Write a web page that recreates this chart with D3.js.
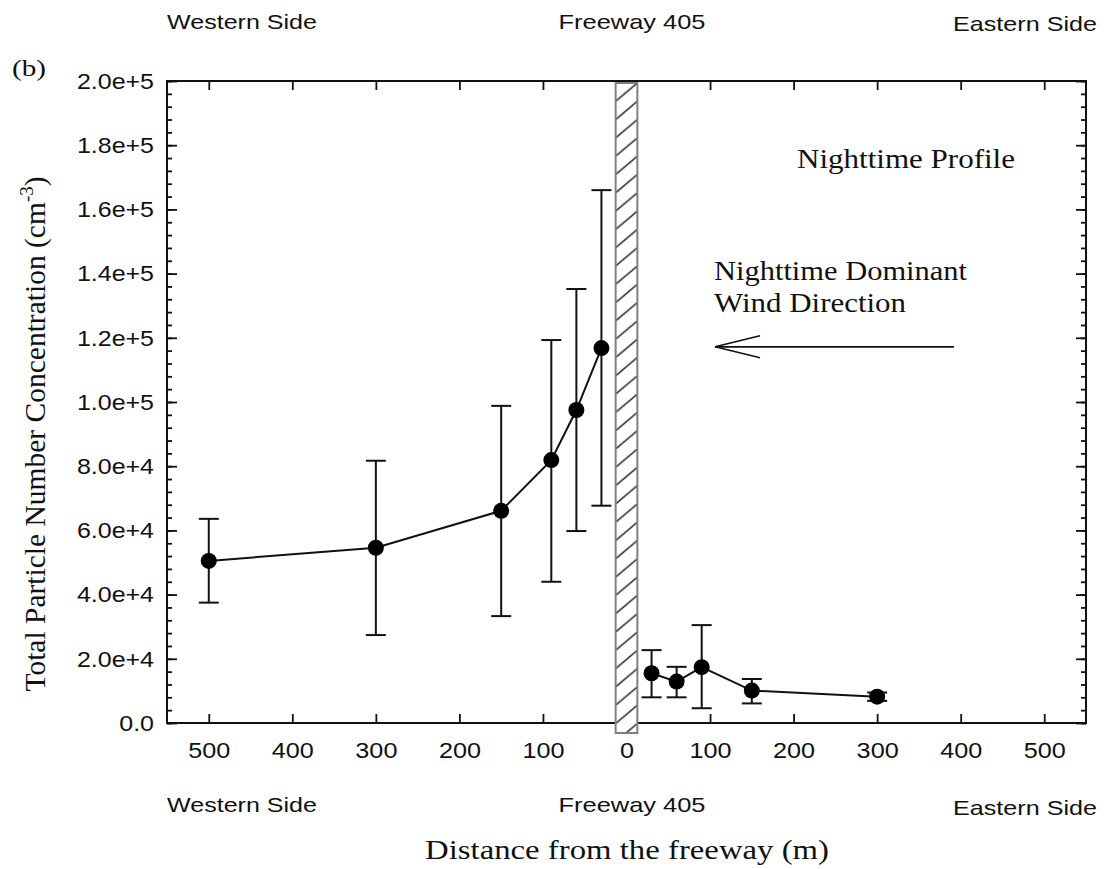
<!DOCTYPE html>
<html>
<head>
<meta charset="utf-8">
<script src="https://cdn.jsdelivr.net/npm/d3@7"></script>
<style>
  html, body { margin: 0; padding: 0; background: #fff; }
  svg { display: block; }
</style>
</head>
<body>
<svg id="chart" width="1104" height="869"></svg>
<script>
// ---------------- data ----------------
const westDist = [500, 300, 150, 90, 60, 30];
const westMean = [50500, 54600, 66100, 81900, 97500, 116800];
const westHigh = [63600, 81700, 98800, 119300, 135200, 166000];
const westLow  = [37500, 27400, 33300, 44000, 59800, 67700];

const eastDist = [30, 60, 90, 150, 300];
const eastMean = [15500, 12900, 17400, 10100, 8200];
const eastHigh = [22700, 17500, 30500, 13700, 9500];
const eastLow  = [8000, 8000, 4600, 6100, 6900];

const xTicks = [-500, -400, -300, -200, -100, 0, 100, 200, 300, 400, 500];
const yTicks = [0, 20000, 40000, 60000, 80000, 100000, 120000, 140000, 160000, 180000, 200000];
const yMinorTicks = d3.range(0, 200001, 4000);

const freewayHalfWidth = 13;           // hatched freeway band, metres
const windArrow = { from: 392, to: 106, y: 117200 };

// ---------------- layout ----------------
const svg = d3.select('#chart');
const L = 167, R = 1086, T = 81, B = 723;
const SANS = "'Liberation Sans', Arial, sans-serif";
const SERIF = "'Liberation Serif', 'Times New Roman', serif";

const x = d3.scaleLinear().domain([-550, 550]).range([L, R]);
const y = d3.scaleLinear().domain([0, 200000]).range([B, T]);

function yFmt(d) {
  if (d === 0) return '0.0';
  const e = Math.floor(Math.log10(d) + 1e-9);
  return (d / Math.pow(10, e)).toFixed(1) + 'e+' + e;
}
function stretch(sel, f) {
  sel.each(function () {
    const w = this.getComputedTextLength();
    d3.select(this).attr('textLength', w * f).attr('lengthAdjust', 'spacingAndGlyphs');
  });
}

// ---------------- axes (ticks inward) ----------------
const gB = svg.append('g').attr('transform', `translate(0,${B})`)
  .call(d3.axisBottom(x).tickValues(xTicks).tickSizeInner(-9).tickSizeOuter(0).tickPadding(19)
    .tickFormat(d => Math.abs(d)));
const gT = svg.append('g').attr('transform', `translate(0,${T})`)
  .call(d3.axisTop(x).tickValues(xTicks).tickSizeInner(-9).tickSizeOuter(0).tickFormat(''));
const gLm = svg.append('g').attr('transform', `translate(${L},0)`)
  .call(d3.axisLeft(y).tickValues(yMinorTicks).tickSizeInner(-5).tickSizeOuter(0).tickFormat(''));
const gL = svg.append('g').attr('transform', `translate(${L},0)`)
  .call(d3.axisLeft(y).tickValues(yTicks).tickSizeInner(-10).tickSizeOuter(0).tickPadding(13).tickFormat(yFmt));
const gRm = svg.append('g').attr('transform', `translate(${R},0)`)
  .call(d3.axisRight(y).tickValues(yMinorTicks).tickSizeInner(-5).tickSizeOuter(0).tickFormat(''));
const gR = svg.append('g').attr('transform', `translate(${R},0)`)
  .call(d3.axisRight(y).tickValues(yTicks).tickSizeInner(-10).tickSizeOuter(0).tickFormat(''));

[gB, gT, gLm, gL, gRm, gR].forEach(g => {
  g.select('.domain').remove();
  g.selectAll('.tick line').attr('stroke', '#111').attr('stroke-width', 1.8);
  g.selectAll('.tick text').attr('fill', '#111').attr('font-family', SANS).attr('font-size', 22.5);
});
stretch(gB.selectAll('.tick text'), 1.12);
stretch(gL.selectAll('.tick text'), 1.11);

// frame
svg.append('rect').attr('x', L).attr('y', T).attr('width', R - L).attr('height', B - T)
  .attr('fill', 'none').attr('stroke', '#111').attr('stroke-width', 2);

// ---------------- freeway hatched band ----------------
const bx0 = x(-freewayHalfWidth), bx1 = x(freewayHalfWidth);
const defs = svg.append('defs');
const pat = defs.append('pattern').attr('id', 'hatch').attr('patternUnits', 'userSpaceOnUse')
  .attr('x', bx0).attr('y', T + 2).attr('width', bx1 - bx0).attr('height', 18.3);
pat.append('rect').attr('width', bx1 - bx0).attr('height', 18.3).attr('fill', '#fff');
pat.append('line').attr('x1', 0).attr('y1', 18.3).attr('x2', bx1 - bx0).attr('y2', 0)
  .attr('stroke', '#222').attr('stroke-width', 1.5);
svg.append('rect').attr('x', bx0).attr('y', T + 2).attr('width', bx1 - bx0).attr('height', B + 10 - (T + 2))
  .attr('fill', 'url(#hatch)').attr('stroke', '#808080').attr('stroke-width', 2);

// ---------------- data marks ----------------
function series(dist, mean, hi, lo, sign) {
  const rows = dist.map((d, i) => ({ x: sign * d, m: mean[i], hi: hi[i], lo: lo[i] }));
  const g = svg.append('g');
  const eb = g.selectAll('g.eb').data(rows).join('g');
  eb.append('line').attr('x1', d => x(d.x)).attr('x2', d => x(d.x))
    .attr('y1', d => y(d.hi)).attr('y2', d => y(d.lo)).attr('stroke', '#111').attr('stroke-width', 2);
  eb.append('line').attr('x1', d => x(d.x) - 10).attr('x2', d => x(d.x) + 10)
    .attr('y1', d => y(d.hi)).attr('y2', d => y(d.hi)).attr('stroke', '#111').attr('stroke-width', 2);
  eb.append('line').attr('x1', d => x(d.x) - 10).attr('x2', d => x(d.x) + 10)
    .attr('y1', d => y(d.lo)).attr('y2', d => y(d.lo)).attr('stroke', '#111').attr('stroke-width', 2);
  g.append('path').datum(rows)
    .attr('d', d3.line().x(d => x(d.x)).y(d => y(d.m)))
    .attr('fill', 'none').attr('stroke', '#111').attr('stroke-width', 2);
  g.selectAll('circle').data(rows).join('circle')
    .attr('cx', d => x(d.x)).attr('cy', d => y(d.m)).attr('r', 8).attr('fill', '#000');
}
series(westDist, westMean, westHigh, westLow, -1);
series(eastDist, eastMean, eastHigh, eastLow, 1);

// ---------------- wind arrow ----------------
const ay = y(windArrow.y), ax0 = x(windArrow.from), ax1 = x(windArrow.to);
svg.append('line').attr('x1', ax0).attr('x2', ax1).attr('y1', ay).attr('y2', ay)
  .attr('stroke', '#111').attr('stroke-width', 1.8);
svg.append('path').attr('d', `M${ax1 + 45},${ay - 11} L${ax1},${ay} L${ax1 + 45},${ay + 11}`)
  .attr('fill', 'none').attr('stroke', '#111').attr('stroke-width', 1.5);

// ---------------- texts ----------------
function txt(s, px, py, opts) {
  const t = svg.append('text').attr('x', px).attr('y', py).text(s)
    .attr('font-family', opts.serif ? SERIF : SANS).attr('font-size', opts.size)
    .attr('fill', '#111').attr('text-anchor', opts.anchor || 'start');
  if (opts.w) t.attr('textLength', opts.w).attr('lengthAdjust', 'spacingAndGlyphs');
  return t;
}
// top side labels
txt('Western Side', 167, 29, { size: 21, w: 150 });
txt('Freeway 405', 632, 29, { size: 21, w: 147, anchor: 'middle' });
txt('Eastern Side', 953, 31, { size: 21, w: 144 });
// bottom side labels
txt('Western Side', 167, 812, { size: 21, w: 150 });
txt('Freeway 405', 632, 812, { size: 21, w: 147, anchor: 'middle' });
txt('Eastern Side', 953, 815, { size: 21, w: 144 });

txt('(b)', 12, 76, { size: 24, serif: true, w: 34 });
txt('Distance from the freeway (m)', 627, 859, { size: 28, serif: true, w: 404, anchor: 'middle' });
txt('Nighttime Profile', 797, 168, { size: 27, serif: true, w: 218 });
txt('Nighttime Dominant', 714, 280, { size: 28, serif: true, w: 253 });
txt('Wind Direction', 714, 312, { size: 28, serif: true, w: 192 });

// y title
const yt = svg.append('text').attr('transform', 'translate(45,434) rotate(-90)')
  .attr('text-anchor', 'middle').attr('font-family', SERIF).attr('font-size', 29.5).attr('fill', '#111');
yt.append('tspan').text('Total Particle Number Concentration (cm');
yt.append('tspan').text('-3').attr('font-size', 19).attr('dy', -12);
yt.append('tspan').text(')').attr('dy', 12);
</script>
</body>
</html>
